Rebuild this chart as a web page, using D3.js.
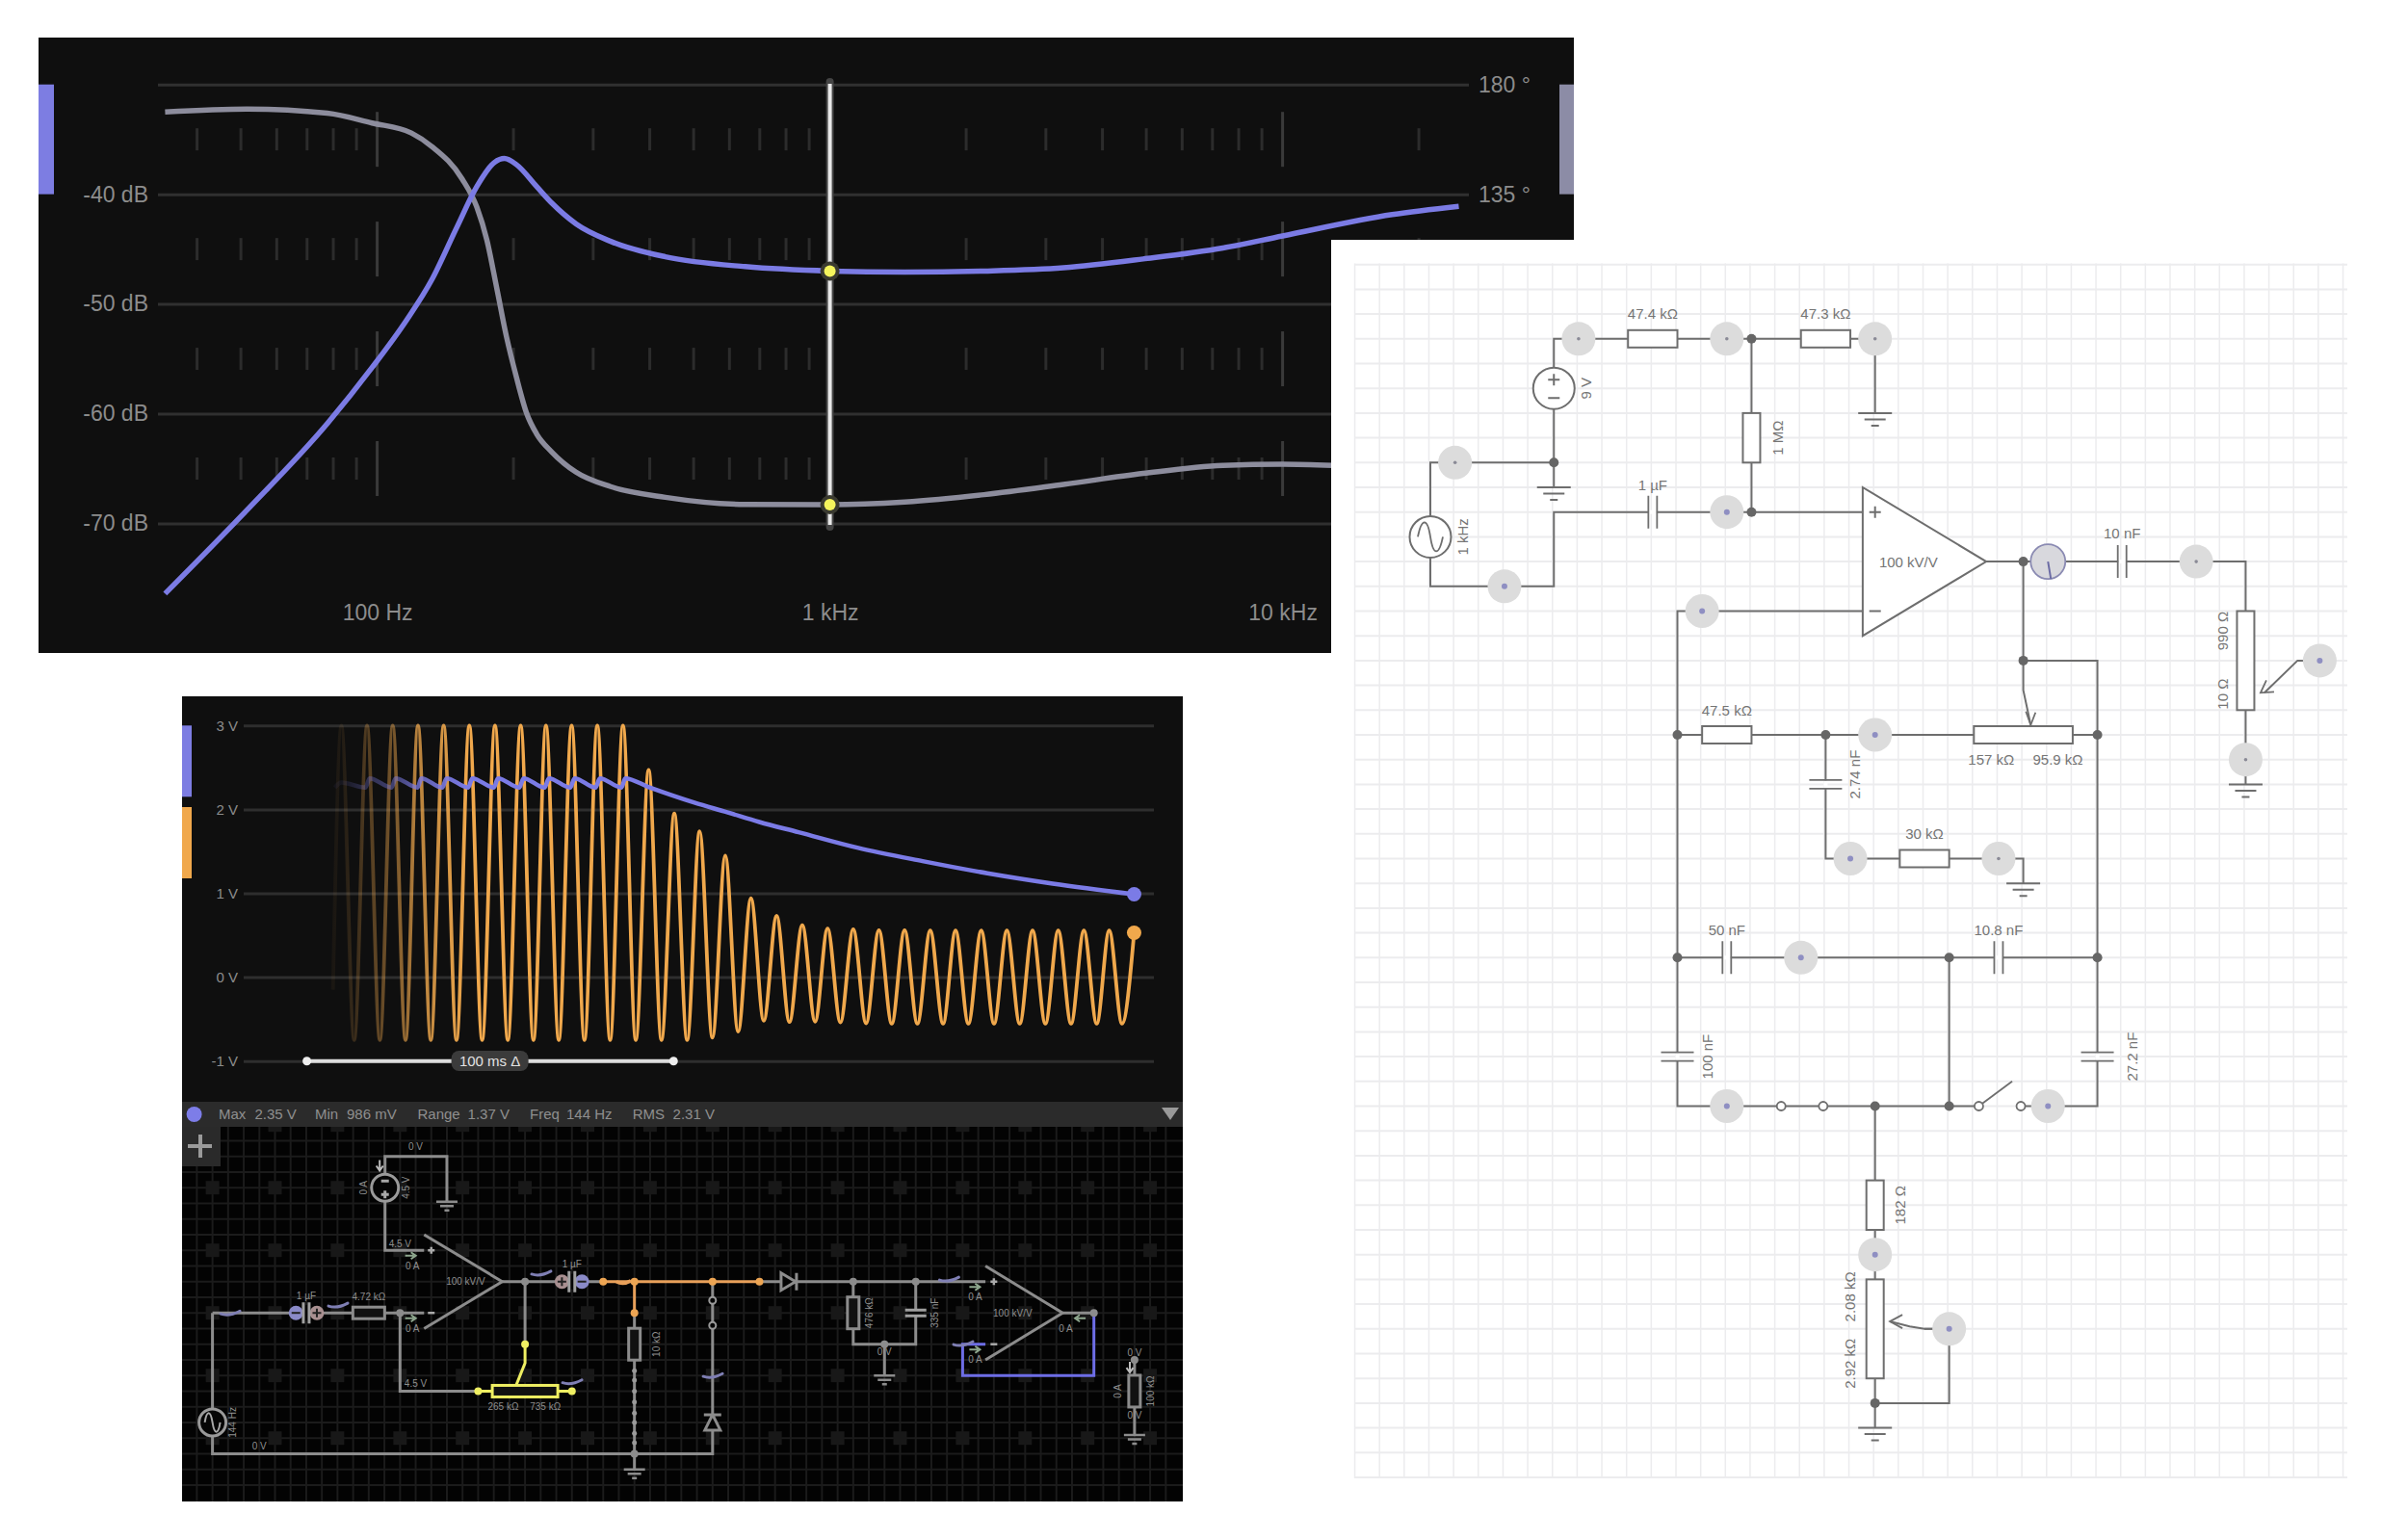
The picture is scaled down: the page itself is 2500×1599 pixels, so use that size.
<!DOCTYPE html>
<html>
<head>
<meta charset="utf-8">
<script src="https://cdn.jsdelivr.net/npm/d3@7"></script>
<style>
  body { margin: 0; background: #fff; }
  text { font-family: "Liberation Sans", Helvetica, Arial, sans-serif; }
</style>
</head>
<body>
<div id="chart"></div>
<script>
// ---------- bode plot data ----------
var magFreq = [34, 51.8, 77.6, 97.4, 116, 132, 150, 166, 181.6, 191, 203, 225, 243, 275, 328, 433, 650, 1000, 1462, 2190, 3280, 4920, 7380, 10000, 17460, 24500];
var magDb = [-76.4, -68.7, -60.9, -55.8, -51.5, -47.8, -43, -39.3, -37.1, -36.75, -37.3, -39.3, -40.8, -42.7, -44.3, -45.7, -46.6, -47, -47.1, -47, -46.7, -45.9, -44.9, -43.8, -41.85, -41.1];
var phaseFreq = [34, 51.8, 77.6, 97.4, 119, 132, 154, 166, 174.6, 183.7, 193, 203, 214, 225, 243, 275, 328, 433, 650, 1000, 1462, 2190, 3280, 4920, 7380, 10000, 12890];
var phaseDeg = [168.7, 169.9, 168.2, 164.2, 160.1, 154.6, 141.3, 129.7, 116.4, 96.5, 76.6, 60, 45, 36.7, 29.3, 21, 15.1, 10.7, 7.8, 7.7, 8.8, 11.8, 16, 20.5, 23.8, 24.3, 23.8];
var dbTicks = [-30, -40, -50, -60, -70];
var degTicks = [180, 135];
var freqTicks = [100, 1000, 10000];
var minorFreqs = [40, 50, 60, 70, 80, 90, 200, 300, 400, 500, 600, 700, 800, 900, 2000, 3000, 4000, 5000, 6000, 7000, 8000, 9000, 20000];
var tickRows = [-35, -45, -55, -65];
var cursorFreq = 1000;

// ---------- scope data ----------
var peakTimes = [9.4, 16.4, 23.4, 30.3, 37.3, 44.3, 51.3, 58.3, 65.2, 72.2, 79.2, 86.2, 93.2, 100.2, 107.1, 114.1, 121.1, 128.1, 135.1, 142, 149, 156, 163, 170, 176.9, 183.9, 190.9, 197.9, 204.9, 211.9, 218.8];
var peakVolts = [3, 3, 3, 3, 3, 3, 3, 3, 3, 3, 3, 3, 2.47, 1.95, 1.74, 1.45, 0.94, 0.73, 0.62, 0.58, 0.57, 0.56, 0.56, 0.555, 0.555, 0.555, 0.555, 0.555, 0.555, 0.555, 0.555];
var troughTimes = [12.9, 19.9, 26.9, 33.8, 40.8, 47.8, 54.8, 61.8, 68.7, 75.7, 82.7, 89.7, 96.7, 103.7, 110.6, 117.6, 124.6, 131.6, 138.6, 145.5, 152.5, 159.5, 166.5, 173.5, 180.4, 187.4, 194.4, 201.4, 208.4, 215.4, 222.3];
var troughVolts = [-0.75, -0.75, -0.75, -0.75, -0.75, -0.75, -0.75, -0.75, -0.75, -0.75, -0.75, -0.75, -0.75, -0.75, -0.72, -0.65, -0.52, -0.535, -0.53, -0.54, -0.55, -0.555, -0.555, -0.555, -0.555, -0.555, -0.555, -0.555, -0.555, -0.555, -0.555];
var outputEnd = [225.6, 0.53];
var outputStart = [7.1, -0.15];
var envTimes = [7.6, 9.4, 16, 17.1, 23.1, 24.2, 30.2, 31.2, 36.9, 38.1, 44, 45.1, 51, 52.1, 57.9, 59.1, 64.8, 66, 71.8, 73, 78.7, 79.9, 85.8, 86.8, 93.3, 105.7, 114.6, 123.4, 134.1, 150.1, 167.9, 185.6, 203.4, 225.6];
var envVolts = [2.26, 2.32, 2.26, 2.37, 2.26, 2.37, 2.26, 2.37, 2.26, 2.37, 2.26, 2.37, 2.26, 2.37, 2.26, 2.37, 2.26, 2.37, 2.26, 2.37, 2.26, 2.37, 2.26, 2.37, 2.264, 2.08, 1.966, 1.85, 1.728, 1.544, 1.383, 1.238, 1.115, 0.988];
var voltTicks = [3, 2, 1, 0, -1];
var deltaBar = [0, 100];
var statusLabels = ["Max", "Min", "Range", "Freq", "RMS"];
var statusValues = ["2.35 V", "986 mV", "1.37 V", "144 Hz", "2.31 V"];

// ---------- dark circuit (grid units) ----------
var darkWires = [
  [[0, 1], [0, 5.5], [16, 5.5], [16, 0]],
  [[0, 1], [6.77, 1]],
  [[6, 1], [6, 3.5], [8.5, 3.5]],
  [[6.77, -1], [5.52, -1], [5.52, -4], [7.5, -4], [7.5, -2.55]],
  [[9.27, 0], [12.5, 0]],
  [[17.5, 0], [24.73, 0]],
  [[10, 0], [10, 2]],
  [[13.5, 1], [13.5, 6]],
  [[20.5, 0], [20.5, 2], [22.5, 2], [22.5, 0]],
  [[21.5, 2], [21.5, 3]],
  [[27.2, 1], [28.2, 1]],
  [[29.5, 2.5], [29.5, 4.9]]
];
var darkOrange = [[[12.5, 0], [17.5, 0]], [[13.5, 0], [13.5, 1]]];
var darkYellow = [[[10, 2], [10, 2.6], [9.7, 3.35]], [[8.5, 3.5], [11.5, 3.5]]];
var darkBlue = [[[28.2, 1], [28.2, 3], [24, 3], [24, 2], [24.73, 2]]];
var darkAmps = [[[6.77, -1.5], [9.27, 0], [6.77, 1.5]], [[24.73, -0.5], [27.2, 1], [24.73, 2.5]]];
var darkAmpLabels = [[8.1, 0, "100 kV/V"], [25.6, 1, "100 kV/V"]];
var darkResH = [[5, 1]];
var darkResV = [[13.5, 2], [20.5, 1], [29.5, 3.5]];
var darkPot = [10, 3.5];
var darkCapCircles = [
  [2.67, 1, "#8a8ac8", "-"], [3.34, 1, "#a88f90", "+"],
  [11.18, 0, "#a88f90", "+"], [11.82, 0, "#8a8ac8", "-"]
];
var darkCaps = [[3, 1, "h"], [11.5, 0, "h"], [22.5, 1, "v"]];
var darkGrounds = [[7.5, -2.55], [13.5, 6], [21.5, 3], [29.5, 4.9]];
var darkDots = [[6, 1], [10, 0], [13.5, 5.5], [20.5, 0], [22.5, 0], [21.5, 2], [29.5, 2.5], [28.2, 1]];
var darkOrangeDots = [[12.5, 0], [13.5, 0], [16, 0], [17.5, 0], [13.5, 1]];
var darkYellowDots = [[10, 2], [8.5, 3.5], [11.5, 3.5]];
var darkWireDots = [[13.5, 2.85], [13.5, 3.15], [13.5, 3.5], [13.5, 3.85], [13.5, 4.2], [13.5, 4.5], [13.5, 4.85], [13.5, 5.15]];
var darkSwitch = [[16, 0.6], [16, 1.4]];
var darkTrails = [[0.6, 1], [4.05, 0.75], [10.55, -0.27], [11.54, 3.2], [16.04, 3], [23.6, -0.08], [24.05, 1.98]];
var darkArrows = [[6.35, -0.83, 0], [6.35, 1.17, 0], [24.4, 0.17, 0], [24.4, 2.17, 0], [27.75, 1.17, 180], [5.35, -3.7, 90], [29.35, 2.75, 90]];
var darkLabels = [
  [6.5, -4.3, "0 V"], [4.85, -3, "0 A", -90], [6.2, -3, "4.5 V", -90], [6, -1.2, "4.5 V"], [6.4, -0.5, "0 A"],
  [11.5, -0.55, "1 µF"], [3, 0.45, "1 µF"], [5, 0.5, "4.72 kΩ"], [6.4, 1.5, "0 A"], [6.5, 3.25, "4.5 V"],
  [9.3, 4, "265 kΩ"], [10.65, 4, "735 kΩ"], [14.2, 2, "10 kΩ", -90], [0.65, 4.5, "144 Hz", -90], [1.5, 5.25, "0 V"],
  [21, 1, "476 kΩ", -90], [23.1, 1, "335 nF", -90], [21.5, 2.25, "0 V"], [24.4, 0.5, "0 A"], [24.4, 2.5, "0 A"],
  [27.3, 1.5, "0 A"], [29.5, 2.28, "0 V"], [28.95, 3.5, "0 A", -90], [30, 3.5, "100 kΩ", -90], [29.5, 4.27, "0 V"]
];

// ---------- light circuit (grid units) ----------
var lightWires = [
  [[5, 2], [5, 0], [18, 0], [18, 3]],
  [[5, 2], [5, 5]],
  [[0, 8], [0, 5], [5, 5], [5, 6]],
  [[0, 8], [0, 10], [5, 10], [5, 7], [17.5, 7]],
  [[13, 0], [13, 7]],
  [[17.5, 11], [10, 11], [10, 31], [22.2, 31]],
  [[23.9, 31], [27, 31], [27, 13], [24, 13]],
  [[22.5, 9], [33, 9], [33, 18]],
  [[24, 9], [24, 13]],
  [[10, 16], [27, 16]],
  [[16, 16], [16, 21], [24, 21], [24, 22]],
  [[10, 25], [27, 25]],
  [[21, 25], [21, 31]],
  [[18, 31], [18, 44]],
  [[18, 43], [21, 43], [21, 40], [20, 40]]
];
var lightResH = [[8, 0, 10], [15, 0, 17], [11, 16, 13], [22, 16, 26], [19, 21, 21]];
var lightResV = [[13, 3, 5], [33, 11, 15], [18, 34, 36], [18, 38, 42]];
var lightCaps = [[9, 7, "h"], [28, 9, "h"], [12, 25, "h"], [23, 25, "h"], [16, 18, "v"], [10, 29, "v"], [27, 29, "v"]];
var lightGrounds = [[5, 6], [18, 3], [33, 18], [24, 22], [18, 44]];
var lightJunctions = [[13, 0], [5, 5], [13, 7], [24, 9], [24, 13], [10, 16], [16, 16], [27, 16], [10, 25], [21, 25], [27, 25], [21, 31], [18, 31], [18, 43]];
var lightBlobsGray = [[6, 0], [12, 0], [18, 0], [1, 5], [31, 9], [33, 17], [23, 21]];
var lightBlobsBlue = [[3, 10], [12, 7], [11, 11], [36, 13], [18, 16], [17, 21], [15, 25], [12, 31], [25, 31], [18, 37], [21, 40]];
var lightOpen = [[14.2, 31], [15.9, 31], [22.2, 31], [23.9, 31]];
var lightWipers = [
  [[24, 13], [24, 14.2], [24.3, 15.6]],
  [[36, 13], [35.1, 13], [33.76, 14.3]],
  [[21, 40], [20, 40], [19.4, 39.9], [18.6, 39.7]]
];
var lightLabels = [
  [9, -1, "47.4 kΩ"], [16, -1, "47.3 kΩ"], [6.32, 2, "9 V", -90], [14.05, 4, "1 MΩ", -90], [9, 5.9, "1 µF"],
  [1.33, 8, "1 kHz", -90], [19.35, 9.03, "100 kV/V"], [28, 7.86, "10 nF"], [32.06, 11.8, "990 Ω", -90], [32.06, 14.35, "10 Ω", -90],
  [12, 15, "47.5 kΩ"], [22.7, 17, "157 kΩ"], [25.4, 17, "95.9 kΩ"], [17.2, 17.6, "2.74 nF", -90], [20, 20, "30 kΩ"],
  [12, 23.9, "50 nF"], [23, 23.9, "10.8 nF"], [11.2, 29, "100 nF", -90], [28.4, 29, "27.2 nF", -90], [19, 35, "182 Ω", -90],
  [17, 38.7, "2.08 kΩ", -90], [17, 41.4, "2.92 kΩ", -90]
];

var svg = d3.select("#chart").append("svg")
    .attr("width", 2500)
    .attr("height", 1599)
    .style("display", "block");

var defs = svg.append("defs");

function addFade(id, color) {
    var g = defs.append("linearGradient")
        .attr("id", id)
        .attr("gradientUnits", "userSpaceOnUse")
        .attr("x1", 330).attr("x2", 487).attr("y1", 0).attr("y2", 0);
    g.append("stop").attr("offset", 0).attr("stop-color", color).attr("stop-opacity", 0);
    g.append("stop").attr("offset", 0.16).attr("stop-color", color).attr("stop-opacity", 0.08);
    g.append("stop").attr("offset", 0.33).attr("stop-color", color).attr("stop-opacity", 0.3);
    g.append("stop").attr("offset", 0.5).attr("stop-color", color).attr("stop-opacity", 0.45);
    g.append("stop").attr("offset", 0.66).attr("stop-color", color).attr("stop-opacity", 0.75);
    g.append("stop").attr("offset", 1).attr("stop-color", color).attr("stop-opacity", 1);
}
addFade("fadeBlue", "#7b7be6");
addFade("fadeOrange", "#f0a84c");

// tidy up an axis: no domain, coloured text and tick lines
function styleAxis(g, size, lineColor, lineWidth) {
    g.select(".domain").remove();
    g.selectAll("text")
        .attr("fill", "#8c8c8c")
        .attr("font-size", size)
        .attr("font-family", null);
    g.selectAll("line")
        .attr("stroke", lineColor)
        .attr("stroke-width", lineWidth);
}

// ---------- BODE PANEL ----------
svg.append("rect").attr("x", 40).attr("y", 39).attr("width", 1594).attr("height", 639).attr("fill", "#0f0f0f");

var xFreq = d3.scaleLog().domain([100, 10000]).range([391.6, 1331.6]);
var yDb = d3.scaleLinear().domain([-30, -70]).range([87.7, 543.5]);
var yDeg = d3.scaleLinear().domain([180, 0]).range([87.7, 543.5]);

svg.append("g")
    .attr("transform", "translate(164,0)")
    .call(d3.axisLeft(yDb).tickValues(dbTicks).tickSize(-1361).tickPadding(10)
        .tickFormat(function(d) { return d == -30 ? "" : d + " dB"; }))
    .call(styleAxis, 23, "#303030", 3);

svg.append("g")
    .attr("transform", "translate(1525,0)")
    .call(d3.axisRight(yDeg).tickValues(degTicks).tickSize(0).tickPadding(10)
        .tickFormat(function(d) { return d + " °"; }))
    .call(styleAxis, 23, "none", 0);

svg.append("g")
    .attr("transform", "translate(0,628)")
    .call(d3.axisBottom(xFreq).tickValues(freqTicks).tickSize(0).tickPadding(0)
        .tickFormat(function(d) { return d >= 1000 ? (d / 1000) + " kHz" : d + " Hz"; }))
    .call(styleAxis, 23, "none", 0);

// tick marks between the grid lines
var tickG = svg.append("g").attr("stroke", "#2c2c2c").attr("stroke-width", 3);
tickRows.forEach(function(r) {
    minorFreqs.forEach(function(f) {
        tickG.append("line")
            .attr("x1", xFreq(f)).attr("x2", xFreq(f))
            .attr("y1", yDb(r) - 11.5).attr("y2", yDb(r) + 11.5);
    });
    freqTicks.forEach(function(f) {
        tickG.append("line")
            .attr("x1", xFreq(f)).attr("x2", xFreq(f))
            .attr("y1", yDb(r) - 28.5).attr("y2", yDb(r) + 28.5)
            .attr("stroke", "#3a3a3a");
    });
});

svg.append("rect").attr("x", 40).attr("y", yDb(-30)).attr("width", 16).attr("height", yDb(-40) - yDb(-30)).attr("fill", "#7d7de2");
svg.append("rect").attr("x", 1619).attr("y", yDb(-30)).attr("width", 15).attr("height", yDb(-40) - yDb(-30)).attr("fill", "#8c8ca6");

var magLine = d3.line().curve(d3.curveMonotoneX)
    .x(function(d) { return xFreq(d[0]); })
    .y(function(d) { return yDb(d[1]); });
var phaseLine = d3.line().curve(d3.curveMonotoneX)
    .x(function(d) { return xFreq(d[0]); })
    .y(function(d) { return yDeg(d[1]); });

svg.append("path")
    .attr("d", phaseLine(d3.zip(phaseFreq, phaseDeg)))
    .attr("fill", "none").attr("stroke", "#8d8d9d").attr("stroke-width", 5.5);
svg.append("path")
    .attr("d", magLine(d3.zip(magFreq, magDb)))
    .attr("fill", "none").attr("stroke", "#7b7be4").attr("stroke-width", 5.5);

// cursor line and its two dots
svg.append("line")
    .attr("x1", xFreq(cursorFreq)).attr("x2", xFreq(cursorFreq))
    .attr("y1", 85).attr("y2", 547)
    .attr("stroke", "#444").attr("stroke-width", 8).attr("stroke-linecap", "round");
svg.append("line")
    .attr("x1", xFreq(cursorFreq)).attr("x2", xFreq(cursorFreq))
    .attr("y1", 87).attr("y2", 545)
    .attr("stroke", "#e8e8e8").attr("stroke-width", 4);
[yDb(-47), yDeg(7.7)].forEach(function(y) {
    svg.append("circle").attr("cx", xFreq(cursorFreq)).attr("cy", y).attr("r", 10).attr("fill", "#3a3a30");
    svg.append("circle").attr("cx", xFreq(cursorFreq)).attr("cy", y).attr("r", 6).attr("fill", "#f4f45c");
});

// ---------- SCOPE PANEL ----------
svg.append("rect").attr("x", 189).attr("y", 723).attr("width", 1039).attr("height", 421).attr("fill", "#0f0f0f");

var xTime = d3.scaleLinear().domain([0, 100]).range([318.6, 699.3]);
var yVolt = d3.scaleLinear().domain([3, -1]).range([753.3, 1101.7]);

svg.append("g")
    .attr("transform", "translate(253,0)")
    .call(d3.axisLeft(yVolt).tickValues(voltTicks).tickSize(-945).tickPadding(6)
        .tickFormat(function(d) { return d + " V"; }))
    .call(styleAxis, 15, "#2e2e2e", 3);

svg.append("rect").attr("x", 189).attr("y", yVolt(3)).attr("width", 10).attr("height", 74).attr("fill", "#7d7de2");
svg.append("rect").attr("x", 189).attr("y", 838).attr("width", 10).attr("height", 74).attr("fill", "#f0a84c");

var scopeLine = d3.line().curve(d3.curveMonotoneX)
    .x(function(d) { return xTime(d[0]); })
    .y(function(d) { return yVolt(d[1]); });

var outputPoints = d3.zip(peakTimes, peakVolts).concat(d3.zip(troughTimes, troughVolts));
outputPoints.push(outputStart, outputEnd);
outputPoints.sort(function(a, b) { return a[0] - b[0]; });

svg.append("path")
    .attr("d", scopeLine(outputPoints))
    .attr("fill", "none").attr("stroke", "url(#fadeOrange)").attr("stroke-width", 3.8);
svg.append("path")
    .attr("d", scopeLine(d3.zip(envTimes, envVolts)))
    .attr("fill", "none").attr("stroke", "url(#fadeBlue)").attr("stroke-width", 4.5);

svg.append("circle").attr("cx", xTime(225.6)).attr("cy", yVolt(0.988)).attr("r", 7.5).attr("fill", "#7b7be6");
svg.append("circle").attr("cx", xTime(outputEnd[0])).attr("cy", yVolt(outputEnd[1])).attr("r", 7.5).attr("fill", "#f0a84c");

// delta measurement bar
svg.append("line")
    .attr("x1", xTime(deltaBar[0])).attr("x2", xTime(deltaBar[1]))
    .attr("y1", yVolt(-1)).attr("y2", yVolt(-1))
    .attr("stroke", "#dcdcdc").attr("stroke-width", 4);
deltaBar.forEach(function(t) {
    svg.append("circle").attr("cx", xTime(t)).attr("cy", yVolt(-1)).attr("r", 4.5).attr("fill", "#eee");
});
svg.append("rect").attr("x", 468.6).attr("y", 1091).attr("width", 80).attr("height", 21).attr("rx", 8).attr("fill", "#3b3b3b");
svg.append("text").attr("x", 508.6).attr("y", 1107).attr("text-anchor", "middle")
    .attr("font-size", 15).attr("fill", "#e2e2e2").text("100 ms Δ");

// status bar
svg.append("rect").attr("x", 189).attr("y", 1144).attr("width", 1039).attr("height", 26).attr("fill", "#2b2b2b");
svg.append("circle").attr("cx", 201.6).attr("cy", 1157).attr("r", 8).attr("fill", "#7d7de8");
var statusLabelX = [227, 327, 433.5, 550, 656.7];
var statusValueX = [264.5, 360, 485.6, 588, 698.6];
statusLabels.forEach(function(s, i) {
    svg.append("text").attr("x", statusLabelX[i]).attr("y", 1162).attr("font-size", 15).attr("fill", "#8f8f8f").text(s);
    svg.append("text").attr("x", statusValueX[i]).attr("y", 1162).attr("font-size", 15).attr("fill", "#8f8f8f").text(statusValues[i]);
});
svg.append("path").attr("d", "M1206,1150 L1224,1150 L1215,1163 Z").attr("fill", "#9a9a9a");

// ---------- DARK CIRCUIT PANEL ----------
svg.append("rect").attr("x", 189).attr("y", 1170).attr("width", 1039).attr("height", 389).attr("fill", "#030303");

var dx = d3.scaleLinear().domain([0, 1]).range([220.6, 253.05]);
var dy = d3.scaleLinear().domain([0, 1]).range([1330.7, 1363.2]);
var darkLine = d3.line()
    .x(function(d) { return dx(d[0]); })
    .y(function(d) { return dy(d[1]); });

var darkClip = defs.append("clipPath").attr("id", "darkClip");
darkClip.append("rect").attr("x", 189).attr("y", 1170).attr("width", 1039).attr("height", 389);
var dark = svg.append("g").attr("clip-path", "url(#darkClip)");

d3.range(-1, 31, 0.5).forEach(function(u) {
    dark.append("line").attr("x1", dx(u)).attr("x2", dx(u)).attr("y1", 1170).attr("y2", 1559)
        .attr("stroke", "#1b1b1b").attr("stroke-width", 2);
});
d3.range(-5, 7, 0.5).forEach(function(v) {
    dark.append("line").attr("x1", 189).attr("x2", 1228).attr("y1", dy(v)).attr("y2", dy(v))
        .attr("stroke", "#1b1b1b").attr("stroke-width", 2);
});
d3.range(-1, 31, 2).forEach(function(u) {
    d3.range(-5, 7, 2).forEach(function(v) {
        dark.append("rect").attr("x", dx(u + 1) - 7).attr("y", dy(v) - 7).attr("width", 14).attr("height", 14).attr("fill", "#181818");
    });
});

// add button
dark.append("rect").attr("x", 189).attr("y", 1170).attr("width", 40).attr("height", 41).attr("fill", "#2a2a2a");
dark.append("path").attr("d", "M195,1190 L220,1190 M208,1178 L208,1202").attr("stroke", "#9a9a9a").attr("stroke-width", 4);

function drawDarkWires(list, color, width) {
    list.forEach(function(w) {
        dark.append("path").attr("d", darkLine(w)).attr("fill", "none")
            .attr("stroke", color).attr("stroke-width", width).attr("stroke-linejoin", "miter");
    });
}
drawDarkWires(darkWires, "#8c8c8c", 3);
drawDarkWires(darkBlue, "#6d6de6", 3);
drawDarkWires(darkOrange, "#e8a05a", 3);
drawDarkWires(darkYellow, "#efef62", 3);
drawDarkWires(darkAmps, "#8c8c8c", 3);

darkResH.forEach(function(d) {
    dark.append("rect").attr("x", dx(d[0]) - 16.5).attr("y", dy(d[1]) - 6).attr("width", 33).attr("height", 12)
        .attr("fill", "#111").attr("stroke", "#8c8c8c").attr("stroke-width", 3);
});
darkResV.forEach(function(d) {
    dark.append("rect").attr("x", dx(d[0]) - 6).attr("y", dy(d[1]) - 16.5).attr("width", 12).attr("height", 33)
        .attr("fill", "#111").attr("stroke", "#8c8c8c").attr("stroke-width", 3);
});
dark.append("rect").attr("x", dx(darkPot[0]) - 34).attr("y", dy(darkPot[1]) - 6).attr("width", 68).attr("height", 12)
    .attr("fill", "#111").attr("stroke", "#efef62").attr("stroke-width", 3);

// capacitors, with coloured charge circles beside the plates
darkCapCircles.forEach(function(d) {
    dark.append("circle").attr("cx", dx(d[0])).attr("cy", dy(d[1])).attr("r", 7.5).attr("fill", d[2]);
    var p = "M-4.5,0 L4.5,0" + (d[3] == "+" ? " M0,-4.5 L0,4.5" : "");
    dark.append("path").attr("d", p).attr("transform", "translate(" + dx(d[0]) + "," + dy(d[1]) + ")")
        .attr("stroke", "#222").attr("stroke-width", 2);
});
darkCaps.forEach(function(d) {
    var p = d[2] == "h" ? "M-3,-11 L-3,11 M3,-11 L3,11" : "M-11,-3 L11,-3 M-11,3 L11,3";
    var gap = d[2] == "h" ? [6, 16] : [16, 6];
    dark.append("rect").attr("x", dx(d[0]) - gap[0] / 2).attr("y", dy(d[1]) - gap[1] / 2)
        .attr("width", gap[0]).attr("height", gap[1]).attr("fill", "#050505");
    dark.append("path").attr("d", p).attr("transform", "translate(" + dx(d[0]) + "," + dy(d[1]) + ")")
        .attr("stroke", "#a0a0a0").attr("stroke-width", 3);
});

// diodes
dark.append("path").attr("d", "M-10,-9 L5,0 L-10,9 Z M6,-9 L6,9")
    .attr("transform", "translate(" + dx(18.5) + "," + dy(0) + ")")
    .attr("fill", "#050505").attr("stroke", "#8c8c8c").attr("stroke-width", 3);
dark.append("path").attr("d", "M-8,8 L0,-8 L8,8 Z M-9,-8 L9,-8")
    .attr("transform", "translate(" + dx(16) + "," + dy(4.5) + ")")
    .attr("fill", "#050505").attr("stroke", "#8c8c8c").attr("stroke-width", 3);

// sources
var darkPlusMinus = dark.append("g").attr("transform", "translate(" + dx(5.52) + "," + dy(-3) + ")");
darkPlusMinus.append("circle").attr("r", 14).attr("fill", "#050505").attr("stroke", "#9a9a9a").attr("stroke-width", 3);
darkPlusMinus.append("path").attr("d", "M-4,-7 L4,-7 M-4,7 L4,7 M0,3 L0,11").attr("stroke", "#a8a8a8").attr("stroke-width", 3);
var darkAc = dark.append("g").attr("transform", "translate(" + dx(0) + "," + dy(4.5) + ")");
darkAc.append("circle").attr("r", 14).attr("fill", "#050505").attr("stroke", "#9a9a9a").attr("stroke-width", 3);
darkAc.append("path").attr("d", "M-8,0 C-6,-13 -2,-13 0,0 C2,13 6,13 8,0").attr("fill", "none").attr("stroke", "#a8a8a8").attr("stroke-width", 2);

// ground symbols
darkGrounds.forEach(function(d) {
    dark.append("path").attr("d", "M-11,0 L11,0 M-7,4.5 L7,4.5 M-2.5,9 L2.5,9")
        .attr("transform", "translate(" + dx(d[0]) + "," + dy(d[1]) + ")")
        .attr("stroke", "#8c8c8c").attr("stroke-width", 2.5);
});

// nodes
darkDots.forEach(function(d) { dark.append("circle").attr("cx", dx(d[0])).attr("cy", dy(d[1])).attr("r", 4).attr("fill", "#8c8c8c"); });
darkWireDots.forEach(function(d) { dark.append("circle").attr("cx", dx(d[0])).attr("cy", dy(d[1])).attr("r", 2.5).attr("fill", "#9a9a9a"); });
darkOrangeDots.forEach(function(d) { dark.append("circle").attr("cx", dx(d[0])).attr("cy", dy(d[1])).attr("r", 4).attr("fill", "#eda553"); });
darkYellowDots.forEach(function(d) { dark.append("circle").attr("cx", dx(d[0])).attr("cy", dy(d[1])).attr("r", 4).attr("fill", "#efef62"); });
darkSwitch.forEach(function(d) {
    dark.append("circle").attr("cx", dx(d[0])).attr("cy", dy(d[1])).attr("r", 3.5).attr("fill", "#050505").attr("stroke", "#9a9a9a").attr("stroke-width", 2);
});

// op amp +/- marks
dark.append("path").attr("d", "M-3.5,0 L3.5,0 M0,-3.5 L0,3.5").attr("transform", "translate(" + dx(7) + "," + dy(-1) + ")").attr("stroke", "#aaa").attr("stroke-width", 2.5);
dark.append("path").attr("d", "M-3.5,0 L3.5,0").attr("transform", "translate(" + dx(7) + "," + dy(1) + ")").attr("stroke", "#aaa").attr("stroke-width", 2.5);
dark.append("path").attr("d", "M-3.5,0 L3.5,0 M0,-3.5 L0,3.5").attr("transform", "translate(" + dx(25) + "," + dy(0) + ")").attr("stroke", "#aaa").attr("stroke-width", 2.5);
dark.append("path").attr("d", "M-3.5,0 L3.5,0").attr("transform", "translate(" + dx(25) + "," + dy(2) + ")").attr("stroke", "#aaa").attr("stroke-width", 2.5);

// little comet trails showing current flow
darkTrails.forEach(function(d) {
    dark.append("path").attr("d", "M-11,1 Q-2,4 9,-2").attr("transform", "translate(" + dx(d[0]) + "," + dy(d[1]) + ")")
        .attr("fill", "none").attr("stroke", "#7f7fb4").attr("stroke-width", 3).attr("stroke-linecap", "round");
});
dark.append("path").attr("d", "M-9,0 Q-2,4 6,-1").attr("transform", "translate(" + dx(13.2) + "," + dy(0) + ")")
    .attr("fill", "none").attr("stroke", "#e8a05a").attr("stroke-width", 3.5);

darkArrows.forEach(function(d) {
    var color = d[2] == 90 ? "#bdbdbd" : "#8fa88f";
    dark.append("path").attr("d", "M-6,0 L3,0 M0,-3.5 L5,0 L0,3.5")
        .attr("transform", "translate(" + dx(d[0]) + "," + dy(d[1]) + ") rotate(" + d[2] + ")")
        .attr("fill", "none").attr("stroke", color).attr("stroke-width", 2);
});

darkAmpLabels.concat(darkLabels).forEach(function(d) {
    var t = "translate(" + dx(d[0]) + "," + dy(d[1]) + ")" + (d[3] ? " rotate(" + d[3] + ")" : "");
    dark.append("text").attr("transform", t).attr("text-anchor", "middle").attr("dy", "0.35em")
        .attr("font-size", 10).attr("fill", "#8f8f8f").text(d[2]);
});

// ---------- LIGHT CIRCUIT PANEL ----------
// white sheet laid over the corner of the bode panel
svg.append("rect").attr("x", 1382).attr("y", 249).attr("width", 1118).attr("height", 1350).attr("fill", "#fff");

var lx = d3.scaleLinear().domain([0, 1]).range([1485, 1510.65]);
var ly = d3.scaleLinear().domain([0, 1]).range([351.8, 377.5]);
var lightLine = d3.line()
    .x(function(d) { return lx(d[0]); })
    .y(function(d) { return ly(d[1]); });

var light = svg.append("g");
d3.range(-3, 38).forEach(function(u) {
    light.append("line").attr("x1", lx(u) - 1.5).attr("x2", lx(u) - 1.5).attr("y1", 273.6).attr("y2", 1535)
        .attr("stroke", "#ececee").attr("stroke-width", 1.5);
});
d3.range(-3, 47).forEach(function(v) {
    light.append("line").attr("x1", 1406.7).attr("x2", 2437).attr("y1", ly(v)).attr("y2", ly(v))
        .attr("stroke", "#ececee").attr("stroke-width", 2);
});

var wireColor = "#6e6e6e";
lightWires.concat(lightWipers).forEach(function(w) {
    light.append("path").attr("d", lightLine(w)).attr("fill", "none")
        .attr("stroke", wireColor).attr("stroke-width", 2);
});

// op amp
light.append("path").attr("d", lightLine([[17.5, 6], [22.5, 9], [17.5, 12]]) + " Z")
    .attr("fill", "#fff").attr("stroke", wireColor).attr("stroke-width", 2);
light.append("path").attr("d", "M-6,0 L6,0 M0,-6 L0,6").attr("transform", "translate(" + lx(18) + "," + ly(7) + ")").attr("stroke", wireColor).attr("stroke-width", 2);
light.append("path").attr("d", "M-6,0 L6,0").attr("transform", "translate(" + lx(18) + "," + ly(11) + ")").attr("stroke", wireColor).attr("stroke-width", 2);

// resistors
lightResH.forEach(function(d) {
    light.append("rect").attr("x", lx(d[0])).attr("y", ly(d[1]) - 9).attr("width", lx(d[2]) - lx(d[0])).attr("height", 18)
        .attr("fill", "#fff").attr("stroke", wireColor).attr("stroke-width", 2);
});
lightResV.forEach(function(d) {
    light.append("rect").attr("x", lx(d[0]) - 9).attr("y", ly(d[1])).attr("width", 18).attr("height", ly(d[2]) - ly(d[1]))
        .attr("fill", "#fff").attr("stroke", wireColor).attr("stroke-width", 2);
});

// capacitors
lightCaps.forEach(function(d) {
    var p = d[2] == "h" ? "M-4.5,-17 L-4.5,17 M4.5,-17 L4.5,17" : "M-17,-4.5 L17,-4.5 M-17,4.5 L17,4.5";
    var gap = d[2] == "h" ? [8, 4] : [4, 8];
    light.append("rect").attr("x", lx(d[0]) - gap[0] / 2).attr("y", ly(d[1]) - gap[1] / 2)
        .attr("width", gap[0]).attr("height", gap[1]).attr("fill", "#fff");
    light.append("path").attr("d", p).attr("transform", "translate(" + lx(d[0]) + "," + ly(d[1]) + ")")
        .attr("stroke", wireColor).attr("stroke-width", 1.8);
});

// sources
var lightDc = light.append("g").attr("transform", "translate(" + lx(5) + "," + ly(2) + ")");
lightDc.append("circle").attr("r", 21.5).attr("fill", "#fff").attr("stroke", wireColor).attr("stroke-width", 2);
lightDc.append("path").attr("d", "M-6,-9 L6,-9 M0,-15 L0,-3 M-6,10 L6,10").attr("stroke", wireColor).attr("stroke-width", 2);
var lightAc = light.append("g").attr("transform", "translate(" + lx(0) + "," + ly(8) + ")");
lightAc.append("circle").attr("r", 21.5).attr("fill", "#fff").attr("stroke", wireColor).attr("stroke-width", 2);
lightAc.append("path").attr("d", "M-13,0 C-9,-20 -3,-20 0,0 C3,20 9,20 13,0").attr("fill", "none").attr("stroke", wireColor).attr("stroke-width", 1.8);

// grounds
lightGrounds.forEach(function(d) {
    light.append("path").attr("d", "M-17.5,0 L17.5,0 M-11,6.5 L11,6.5 M-4,13 L4,13")
        .attr("transform", "translate(" + lx(d[0]) + "," + ly(d[1]) + ")")
        .attr("stroke", wireColor).attr("stroke-width", 2);
});

// wiper arrow heads
light.append("path").attr("d", "M-5,-14 L0,0 L5,-13").attr("transform", "translate(" + lx(24.3) + "," + ly(15.6) + ")")
    .attr("fill", "none").attr("stroke", wireColor).attr("stroke-width", 1.8);
light.append("path").attr("d", "M2,-13 L-4,0 L10,-1").attr("transform", "translate(" + lx(33.76) + "," + ly(14.3) + ")")
    .attr("fill", "none").attr("stroke", wireColor).attr("stroke-width", 1.8);
light.append("path").attr("d", "M13,-7 L0,0 L13,7").attr("transform", "translate(" + lx(18.6) + "," + ly(39.7) + ")")
    .attr("fill", "none").attr("stroke", wireColor).attr("stroke-width", 1.8);

// open switch lever
light.append("path").attr("d", lightLine([[22.2, 31], [23.55, 30]])).attr("stroke", wireColor).attr("stroke-width", 1.8);

// measurement blobs
lightBlobsGray.forEach(function(d) {
    light.append("circle").attr("cx", lx(d[0])).attr("cy", ly(d[1])).attr("r", 17.5).attr("fill", "#dcdcdc");
    light.append("circle").attr("cx", lx(d[0])).attr("cy", ly(d[1])).attr("r", 1.8).attr("fill", "#8a8a96");
});
lightBlobsBlue.forEach(function(d) {
    light.append("circle").attr("cx", lx(d[0])).attr("cy", ly(d[1])).attr("r", 17.5).attr("fill", "#dcdcdc");
    light.append("circle").attr("cx", lx(d[0])).attr("cy", ly(d[1])).attr("r", 3).attr("fill", "#8f8fc2");
});

// meter
var meter = light.append("g").attr("transform", "translate(" + lx(25) + "," + ly(9) + ")");
meter.append("circle").attr("r", 18).attr("fill", "#d8d8dd").attr("stroke", "#8a8ab2").attr("stroke-width", 1.8);
meter.append("line").attr("x1", 0).attr("y1", 0).attr("x2", 3).attr("y2", 18).attr("stroke", "#6b6ba4").attr("stroke-width", 2);

lightJunctions.forEach(function(d) {
    light.append("circle").attr("cx", lx(d[0])).attr("cy", ly(d[1])).attr("r", 5).attr("fill", "#666");
});
lightOpen.forEach(function(d) {
    light.append("circle").attr("cx", lx(d[0])).attr("cy", ly(d[1])).attr("r", 4.5).attr("fill", "#fff").attr("stroke", wireColor).attr("stroke-width", 1.8);
});

lightLabels.forEach(function(d) {
    var t = "translate(" + lx(d[0]) + "," + ly(d[1]) + ")" + (d[3] ? " rotate(" + d[3] + ")" : "");
    light.append("text").attr("transform", t).attr("text-anchor", "middle").attr("dy", "0.35em")
        .attr("font-size", 15).attr("fill", "#757575").text(d[2]);
});
</script>
</body>
</html>
